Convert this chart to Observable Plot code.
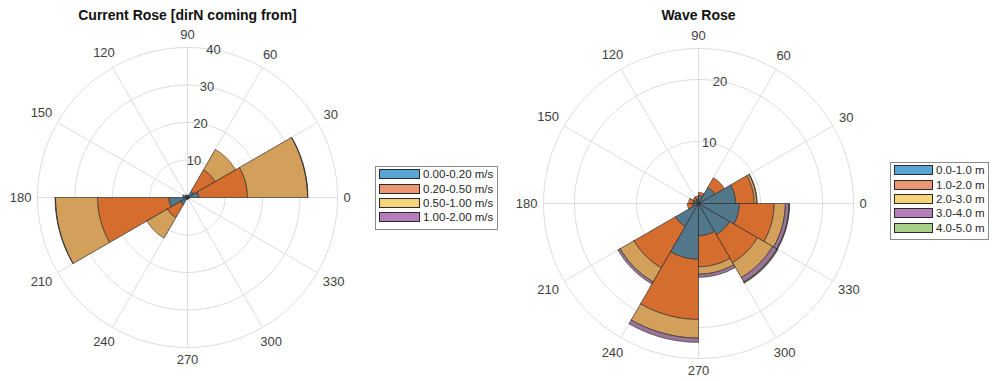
<!DOCTYPE html>
<html>
<head>
<meta charset="utf-8">
<script src="https://cdn.jsdelivr.net/npm/d3@7"></script>
<script src="https://cdn.jsdelivr.net/npm/@observablehq/plot@0.6"></script>
<style>
  body { margin: 0; background: #fff; font-family: "Liberation Sans", Arial, sans-serif; }
  #wrap { position: relative; width: 992px; height: 381px; overflow: hidden; background: #fff; }
  .panel { position: absolute; top: 0; }
  .legend { position: absolute; box-sizing: border-box; border: 1px solid #8a8a8a; background: #fff;
            padding: 0px 3px 4px 3px; font-size: 11.5px; color: #262626; }
  .legend .row { display: flex; align-items: center; height: 14.4px; white-space: nowrap; }
  .legend .sw { box-sizing: border-box; height: 10px; border: 1px solid #2a2a2a; margin-right: 3px; flex: none; }
</style>
</head>
<body>
<div id="wrap"></div>
<script>
// Direction bins (degrees, counter-clockwise from east), 30° wide
const binStart = [0, 30, 60, 90, 120, 150, 180, 210, 240, 270, 300, 330];
const binWidth = 30;
const angleTicks = [0, 30, 60, 90, 120, 150, 180, 210, 240, 270, 300, 330];

// Current rose: frequency (%) per speed class and direction bin
const currentClasses = ["0.00-0.20 m/s", "0.20-0.50 m/s", "0.50-1.00 m/s", "1.00-2.00 m/s"];
const current_000_020 = [3.0, 1.9, 0.6, 0.5, 0.8, 1.3, 5.0, 2.2, 0.5, 0.4, 0.4, 0.5];
const current_020_050 = [13.0, 6.6, 0, 0, 0, 0, 19.0, 4.0, 0, 0, 0, 0];
const current_050_100 = [16.0, 6.3, 0, 0, 0, 0, 11.2, 6.3, 0, 0, 0, 0];
const current_100_200 = [0.1, 0, 0, 0, 0, 0, 0.1, 0, 0, 0, 0, 0];
const currentTicks = [10, 20, 30, 40];
const currentRMax = 40;

// Wave rose: frequency (%) per height class and direction bin
const waveClasses = ["0.0-1.0 m", "1.0-2.0 m", "2.0-3.0 m", "3.0-4.0 m", "4.0-5.0 m"];
const wave_0_1 = [6.0, 3.0, 1.3, 0.8, 0.6, 0.8, 1.0, 4.3, 9.0, 5.2, 5.8, 6.6];
const wave_1_2 = [3.0, 1.8, 0.5, 0.4, 0.5, 0.8, 0.8, 7.7, 9.7, 5.0, 5.2, 5.6];
const wave_2_3 = [0.4, 0, 0, 0, 0, 0, 0, 2.6, 3.0, 1.2, 2.8, 1.8];
const wave_3_4 = [0.05, 0, 0, 0, 0, 0, 0, 0.4, 0.7, 0.5, 0.8, 0.6];
const wave_4_5 = [0, 0, 0, 0, 0, 0, 0, 0, 0, 0, 0.2, 0.1];
const waveTicks = [10, 20];
const waveRMax = 25;

// Face colours of the stacked wedges and the matching legend swatches
const barColors = ["#52778a", "#d56d2f", "#d3a05c", "#9a7597", "#5f7050"];
const swatchColors = ["#5ba5d6", "#ec9574", "#f6d47a", "#b57ebb", "#a9d08b"];

const rad = (deg) => deg * Math.PI / 180;

function sectorPoints(id, cls, a0, a1, r0, r1) {
  const pts = [];
  for (let a = a0; a <= a1 + 1e-9; a += 1) pts.push({id, cls, x: r1 * Math.cos(rad(a)), y: r1 * Math.sin(rad(a))});
  for (let a = a1; a >= a0 - 1e-9; a -= 1) pts.push({id, cls, x: r0 * Math.cos(rad(a)), y: r0 * Math.sin(rad(a))});
  pts.push({...pts[0]});
  return pts;
}

function makeRose({title, classes, series, ticks, rMax, k, cx, cy, width, left}) {
  const height = 381;
  // wedges: stack the classes outward within each direction bin
  const wedges = [];
  binStart.forEach((a0, i) => {
    let r0 = 0;
    series.forEach((vals, c) => {
      const r1 = r0 + vals[i];
      if (vals[i] > 0) wedges.push(...sectorPoints(`${i}-${c}`, classes[c], a0, a0 + binWidth, r0, r1));
      r0 = r1;
    });
  });
  const rings = [...ticks.filter(t => t < rMax), rMax].flatMap(r =>
    d3.range(0, 361, 2).map(a => ({r, x: r * Math.cos(rad(a)), y: r * Math.sin(rad(a))})));
  const spokes = angleTicks.map(a => ({a, x: rMax * Math.cos(rad(a)), y: rMax * Math.sin(rad(a))}));
  const angleLabels = angleTicks.map(a => {
    const s = String(a);
    const w = 7.2 * s.length, h = 13;
    const off = 6 + Math.abs(Math.cos(rad(a))) * w / 2 + Math.abs(Math.sin(rad(a))) * h / 2;
    const r = rMax + off / k;
    return {s, x: r * Math.cos(rad(a)), y: r * Math.sin(rad(a))};
  });
  const tickLabels = ticks.map(t => ({s: String(t), x: t * Math.cos(rad(80)), y: t * Math.sin(rad(80))}));

  const plot = Plot.plot({
    width, height,
    margin: 0,
    style: {fontFamily: "'Liberation Sans', Arial, sans-serif", background: "transparent", overflow: "visible"},
    x: {domain: [-cx / k, (width - cx) / k], axis: null},
    y: {domain: [-(height - cy) / k, cy / k], axis: null},
    color: {domain: classes, range: barColors.slice(0, classes.length)},
    marks: [
      Plot.line(rings, {x: "x", y: "y", z: "r", stroke: "#dddddd", strokeWidth: 1}),
      Plot.link(spokes, {x1: () => 0, y1: () => 0, x2: "x", y2: "y", stroke: "#dddddd", strokeWidth: 1}),
      Plot.line(wedges, {x: "x", y: "y", z: "id", fill: "cls", stroke: "#262626", strokeWidth: 0.7, strokeOpacity: 0.9, curve: "linear"}),
      Plot.text(angleLabels, {x: "x", y: "y", text: "s", fontSize: 13, fill: "#404040", textAnchor: "middle", lineAnchor: "middle"}),
      Plot.text(tickLabels, {x: "x", y: "y", text: "s", fontSize: 13, fill: "#404040", textAnchor: "middle", lineAnchor: "middle"}),
      Plot.text([title], {x: () => 0, y: () => (cy - 15) / k, text: d => d, fontSize: 14, fontWeight: "bold", fill: "#111", textAnchor: "middle", lineAnchor: "middle"})
    ]
  });
  plot.classList.add("panel");
  plot.style.left = left + "px";
  return plot;
}

function makeLegend(classes, {left, top, width, swatchWidth}) {
  const box = document.createElement("div");
  box.className = "legend";
  box.style.left = left + "px";
  box.style.top = top + "px";
  box.style.width = width + "px";
  classes.forEach((c, i) => {
    const row = document.createElement("div");
    row.className = "row";
    const sw = document.createElement("span");
    sw.className = "sw";
    sw.style.width = swatchWidth + "px";
    sw.style.background = swatchColors[i];
    const label = document.createElement("span");
    label.textContent = c;
    row.append(sw, label);
    box.append(row);
  });
  return box;
}

const wrap = document.getElementById("wrap");
wrap.append(makeRose({
  title: "Current Rose [dirN coming from]",
  classes: currentClasses,
  series: [current_000_020, current_020_050, current_050_100, current_100_200],
  ticks: currentTicks, rMax: currentRMax, k: 150 / currentRMax,
  cx: 187, cy: 197, width: 372, left: 0
}));
wrap.append(makeRose({
  title: "Wave Rose",
  classes: waveClasses,
  series: [wave_0_1, wave_1_2, wave_2_3, wave_3_4, wave_4_5],
  ticks: waveTicks, rMax: waveRMax, k: 155 / waveRMax,
  cx: 193, cy: 203, width: 487, left: 505
}));
wrap.append(makeLegend(currentClasses, {left: 375, top: 166, width: 123, swatchWidth: 41}));
wrap.append(makeLegend(waveClasses, {left: 890, top: 162, width: 99, swatchWidth: 39}));
</script>
</body>
</html>
